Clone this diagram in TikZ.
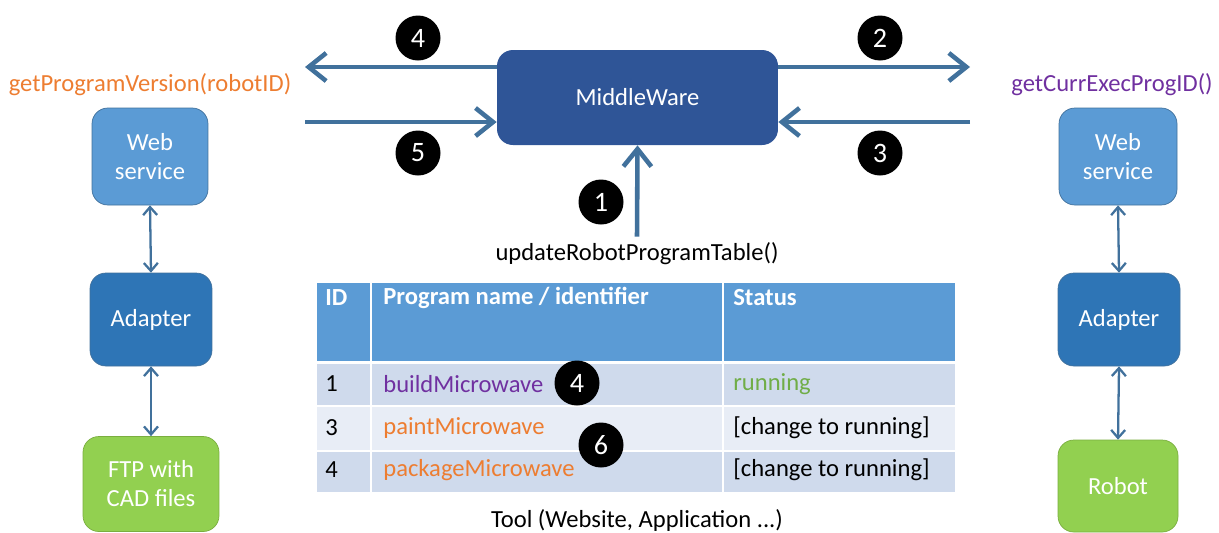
\documentclass[tikz,border=0pt]{standalone}
\usepackage{fontspec}
\setmainfont{Carlito}
\usetikzlibrary{arrows.meta}
\definecolor{mwblue}{HTML}{2F5597}
\definecolor{wsblue}{HTML}{5B9BD5}
\definecolor{adblue}{HTML}{2E75B6}
\definecolor{lnblue}{HTML}{41719C}
\definecolor{boxgreen}{HTML}{92D050}
\definecolor{edgegreen}{HTML}{7AAE3F}
\definecolor{rowdark}{HTML}{CFDAEC}
\definecolor{rowlight}{HTML}{E8EDF6}
\definecolor{txorange}{HTML}{ED7D31}
\definecolor{txpurple}{HTML}{7030A0}
\definecolor{txgreen}{HTML}{70AD47}
\tikzset{
  box/.style={rounded corners=9pt, text=white, align=center, inner sep=2pt},
  badge/.style={circle, fill=black, text=white, minimum size=0.9cm, inner sep=0pt, font=\fontsize{16}{18}\selectfont},
  bigarrow/.style={line width=2.6pt, draw=lnblue, -{Straight Barb[length=3.5mm,width=5.6mm]}},
  linkarrow/.style={line width=1.3pt, draw=lnblue, {Straight Barb[length=1.6mm,width=2.8mm]}-{Straight Barb[length=1.6mm,width=2.8mm]}},
  cell/.style={anchor=west, inner sep=0pt},
}
\begin{document}
\begin{tikzpicture}[x=0.02cm, y=-0.02cm, font=\fontsize{14}{16.5}\selectfont]
  \useasboundingbox (0,0) rectangle (1219,532);
  % middleware and its calls
  \node[box, fill=mwblue, minimum width=5.62cm, minimum height=1.9cm] (mw) at (637.5,97.5) {MiddleWare};
  \coordinate (out4) at (305,67);
  \coordinate (in5) at (305,122);
  \coordinate (out2) at (970,67);
  \coordinate (in3) at (970,122);
  \draw[bigarrow] (mw.west |- out4) -- (out4);
  \draw[bigarrow] (in5) -- (mw.west |- in5);
  \draw[bigarrow] (mw.east |- out2) -- (out2);
  \draw[bigarrow] (in3) -- (mw.east |- in3);
  \node (upd) at (637,254) {updateRobotProgramTable()};
  \draw[bigarrow] (upd.north) -- (mw.south);
  \node[badge] (b4) at (418,38) {4};
  \node[badge] (b5) at (418,153) {5};
  \node[badge] (b2) at (880,38) {2};
  \node[badge] (b3) at (880,153) {3};
  \node[badge] (b1) at (601,202) {1};
  % left side
  \node[text=txorange] (getver) at (150,85) {getProgramVersion(robotID)};
  \node[box, fill=wsblue, draw=lnblue, minimum width=2.32cm, minimum height=1.94cm] (wsl) at (150,156.5) {Web\\service};
  \node[box, fill=adblue, draw=lnblue, minimum width=2.44cm, minimum height=1.86cm] (adl) at (151,319.5) {Adapter};
  \node[box, fill=boxgreen, draw=edgegreen, minimum width=2.72cm, minimum height=1.9cm] (ftp) at (151,484) {FTP with\\CAD files};
  \draw[linkarrow] (wsl.south) -- (adl.north);
  \draw[linkarrow] (adl.south) -- (ftp.north);
  % right side
  \node[text=txpurple] (getcur) at (1112,85) {getCurrExecProgID()};
  \node[box, fill=wsblue, draw=lnblue, minimum width=2.36cm, minimum height=1.94cm] (wsr) at (1118,156.5) {Web\\service};
  \node[box, fill=adblue, draw=lnblue, minimum width=2.44cm, minimum height=1.86cm] (adr) at (1119,319.5) {Adapter};
  \node[box, fill=boxgreen, draw=edgegreen, minimum width=2.4cm, minimum height=1.84cm] (rob) at (1118,486) {Robot};
  \draw[linkarrow] (wsr.south) -- (adr.north);
  \draw[linkarrow] (adr.south) -- (rob.north);
  % table
  \fill[wsblue] (317,283) rectangle (955,362);
  \fill[rowdark] (317,363) rectangle (955,406);
  \fill[rowlight] (317,406) rectangle (955,451);
  \fill[rowdark] (317,451) rectangle (955,492);
  \draw[white, line width=1.2pt] (317,362.5) -- (955,362.5);
  \draw[white, line width=1.2pt] (317,406) -- (955,406);
  \draw[white, line width=1.2pt] (317,451) -- (955,451);
  \draw[white, line width=1.6pt] (371,283) -- (371,492);
  \draw[white, line width=1.6pt] (723,283) -- (723,492);
  \node[cell, text=white, font=\fontsize{14}{16.5}\selectfont\bfseries] (hid) at (325,298) {ID};
  \node[cell, text=white, font=\fontsize{14}{16.5}\selectfont\bfseries] (hname) at (383,298) {Program name / identifier};
  \node[cell, text=white, font=\fontsize{14}{16.5}\selectfont\bfseries] (hstat) at (733,298) {Status};
  \node[cell] (id1) at (325,384) {1};
  \node[cell, text=txpurple] (name1) at (383,384) {buildMicrowave};
  \node[cell, text=txgreen] (stat1) at (733,384) {running};
  \node[cell] (id3) at (325,428) {3};
  \node[cell, text=txorange] (name3) at (383,428) {paintMicrowave};
  \node[cell] (stat3) at (733,428) {[change to running]};
  \node[cell] (id4) at (325,470) {4};
  \node[cell, text=txorange] (name4) at (383,470) {packageMicrowave};
  \node[cell] (stat4) at (733,470) {[change to running]};
  \node[badge] (t4) at (577,383) {4};
  \node[badge] (t6) at (601,445) {6};
  \node (tool) at (637,520) {Tool (Website, Application ...)};
\end{tikzpicture}
\end{document}
